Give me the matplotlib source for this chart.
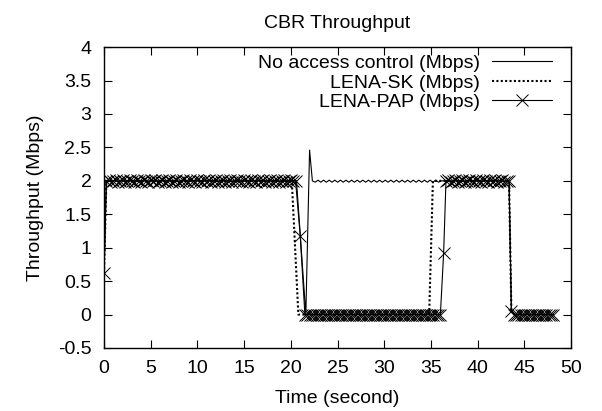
import matplotlib
matplotlib.use("Agg")
import matplotlib.pyplot as plt

plt.rcParams['font.family'] = ['Liberation Sans', 'DejaVu Sans']

# ---- data (time in seconds, throughput in Mbps) ----
pap_t = [0.0, 0.25, 0.5, 0.75, 1.0, 1.25, 1.5, 1.75, 2.0, 2.25, 2.5, 2.75, 3.0, 3.25, 3.5, 3.75,
         4.0, 4.25, 4.5, 4.75, 5.0, 5.25, 5.5, 5.75, 6.0, 6.25, 6.5, 6.75, 7.0, 7.25, 7.5, 7.75,
         8.0, 8.25, 8.5, 8.75, 9.0, 9.25, 9.5, 9.75, 10.0, 10.25, 10.5, 10.75, 11.0, 11.25, 11.5,
         11.75, 12.0, 12.25, 12.5, 12.75, 13.0, 13.25, 13.5, 13.75, 14.0, 14.25, 14.5, 14.75,
         15.0, 15.25, 15.5, 15.75, 16.0, 16.25, 16.5, 16.75, 17.0, 17.25, 17.5, 17.75, 18.0,
         18.25, 18.5, 18.75, 19.0, 19.25, 19.5, 19.75, 20.0, 20.25, 20.5,
         21.0,
         21.5, 21.75, 22.0, 22.25, 22.5, 22.75, 23.0, 23.25, 23.5, 23.75, 24.0, 24.25, 24.5, 24.75,
         25.0, 25.25, 25.5, 25.75, 26.0, 26.25, 26.5, 26.75, 27.0, 27.25, 27.5, 27.75, 28.0, 28.25,
         28.5, 28.75, 29.0, 29.25, 29.5, 29.75, 30.0, 30.25, 30.5, 30.75, 31.0, 31.25, 31.5, 31.75,
         32.0, 32.25, 32.5, 32.75, 33.0, 33.25, 33.5, 33.75, 34.0, 34.25, 34.5, 34.75, 35.0, 35.25,
         35.5, 35.75, 36.0,
         36.35,
         36.6, 36.85, 37.1, 37.35, 37.6, 37.85, 38.1, 38.35, 38.6, 38.85, 39.1, 39.35, 39.6, 39.85,
         40.1, 40.35, 40.6, 40.85, 41.1, 41.35, 41.6, 41.85, 42.1, 42.35, 42.6, 42.85, 43.1, 43.35,
         43.6,
         43.85, 44.1, 44.35, 44.6, 44.85, 45.1, 45.35, 45.6, 45.85, 46.1, 46.35, 46.6, 46.85, 47.1,
         47.35, 47.6, 47.85, 48.1]
pap_v = [0.62, 2.00, 2.01, 1.99, 2.00, 2.02, 1.99, 2.00, 2.01, 1.98, 2.00, 2.01, 2.00, 1.99, 2.02,
         2.00, 1.99, 2.01, 2.00, 1.98, 2.01, 2.00, 2.02, 1.99, 2.00, 2.01, 1.99, 2.00, 2.02, 1.99,
         2.00, 2.01, 1.98, 2.00, 2.01, 2.00, 1.99, 2.02, 2.00, 1.99, 2.01, 2.00, 1.98, 2.01, 2.00,
         2.02, 1.99, 2.00, 2.01, 1.99, 2.00, 2.02, 1.99, 2.00, 2.01, 1.98, 2.00, 2.01, 2.00, 1.99,
         2.02, 2.00, 1.99, 2.01, 2.00, 1.98, 2.01, 2.00, 2.02, 1.99, 2.00, 2.01, 1.99, 2.00, 2.02,
         1.99, 2.00, 2.01, 1.98, 2.00, 2.01, 2.00, 2.00,
         1.18,
         0.00, 0.00, 0.00, 0.00, 0.00, 0.00, 0.00, 0.00, 0.00, 0.00, 0.00, 0.00, 0.00, 0.00,
         0.00, 0.00, 0.00, 0.00, 0.00, 0.00, 0.00, 0.00, 0.00, 0.00, 0.00, 0.00, 0.00, 0.00,
         0.00, 0.00, 0.00, 0.00, 0.00, 0.00, 0.00, 0.00, 0.00, 0.00, 0.00, 0.00, 0.00, 0.00,
         0.00, 0.00, 0.00, 0.00, 0.00, 0.00, 0.00, 0.00, 0.00, 0.00, 0.00, 0.00, 0.00, 0.00,
         0.00, 0.00, 0.00,
         0.92,
         2.00, 2.01, 1.99, 2.00, 2.02, 1.99, 2.00, 2.01, 1.98, 2.00, 2.01, 2.00, 1.99, 2.02,
         2.00, 1.99, 2.01, 2.00, 1.98, 2.01, 2.00, 2.02, 1.99, 2.00, 2.01, 1.99, 2.00, 2.00,
         0.05,
         0.00, 0.00, 0.00, 0.00, 0.00, 0.00, 0.00, 0.00, 0.00, 0.00, 0.00, 0.00, 0.00, 0.00,
         0.00, 0.00, 0.00, 0.00]

sk_t = [0, 0.25, 1.0, 2.0, 3.0, 4.0, 5.0, 6.0, 7.0, 8.0, 9.0, 10.0, 11.0, 12.0, 13.0, 14.0,
        15.0, 16.0, 17.0, 18.0, 19.0, 20.1, 20.8, 22.0, 24.0, 26.0, 28.0, 30.0, 32.0,
        34.0, 34.8, 35.2, 36.0, 37.0, 38.0, 39.0, 40.0, 41.0, 42.0, 43.0, 43.35, 43.6,
        44.0, 45.0, 46.0, 47.0, 48.1]
sk_v = [0.62, 2.00, 2.00, 2.00, 2.00, 2.00, 2.00, 2.00, 2.00, 2.00, 2.00, 2.00, 2.00, 2.00,
        2.00, 2.00, 2.00, 2.00, 2.00, 2.00, 2.00, 2.00, 0.00, 0.00, 0.00, 0.00, 0.00, 0.00,
        0.00, 0.00, 0.00, 2.00, 2.00, 2.00, 2.00, 2.00, 2.00, 2.00, 2.00, 2.00, 2.00, 0.05,
        0.00, 0.00, 0.00, 0.00, 0.00]

na_t = [0, 0.25, 2.0, 4.0, 6.0, 8.0, 10.0, 12.0, 14.0, 16.0, 18.0, 20.0, 20.6, 21.6, 22.0,
        22.3, 22.6, 22.9, 23.2, 23.5, 23.8, 24.1, 24.4, 24.7, 25.0, 25.3, 25.6, 25.9, 26.2,
        26.5, 26.8, 27.1, 27.4, 27.7, 28.0, 28.3, 28.6, 28.9, 29.2, 29.5, 29.8, 30.1, 30.4,
        30.7, 31.0, 31.3, 31.6, 31.9, 32.2, 32.5, 32.8, 33.1, 33.4, 33.7, 34.0, 34.3, 34.6,
        34.9, 35.2, 35.5, 35.8, 36.1, 36.6, 38.0, 40.0, 42.0, 43.35, 43.6, 44.0, 46.0, 48.1]
na_v = [0.62, 2.00, 2.00, 2.00, 2.00, 2.00, 2.00, 2.00, 2.00, 2.00, 2.00, 2.00, 2.00, 0.00,
        2.46, 2.00, 1.98, 2.01, 1.98, 2.01, 1.98, 2.01, 1.98, 2.01, 1.98, 2.01, 1.98, 2.01,
        1.98, 2.01, 1.98, 2.01, 1.98, 2.01, 1.98, 2.01, 1.98, 2.01, 1.98, 2.01, 1.98, 2.01,
        1.98, 2.01, 1.98, 2.01, 1.98, 2.01, 1.98, 2.01, 1.98, 2.01, 1.98, 2.01, 1.98, 2.01,
        1.98, 2.01, 1.98, 2.01, 1.98, 2.00, 2.00, 2.00, 2.00, 2.00, 2.00, 0.05, 0.00, 0.00,
        0.00]

labels = ["No access control (Mbps)", "LENA-SK (Mbps)", "LENA-PAP (Mbps)"]
x_ticks = [0, 5, 10, 15, 20, 25, 30, 35, 40, 45, 50]
y_ticks = [-0.5, 0, 0.5, 1, 1.5, 2, 2.5, 3, 3.5, 4]
y_tick_labels = ["-0.5", "0", "0.5", "1", "1.5", "2", "2.5", "3", "3.5", "4"]

FS = 14

fig = plt.figure(figsize=(6.02, 4.11), dpi=100)
ax = fig.add_axes([0.1728, 0.1533, 0.776, 0.732])

ax.plot(na_t, na_v, color='black', lw=0.8, label=labels[0])
ax.plot(sk_t, sk_v, color='black', lw=1.5, linestyle=(0, (1, 1.1)), label=labels[1])
ax.plot(pap_t, pap_v, color='black', lw=0.8, marker='x', markersize=9,
        markeredgewidth=0.7, label=labels[2])

ax.set_xlim(0, 50)
ax.set_ylim(-0.5, 4)
ax.set_xticks(x_ticks)
ax.set_yticks(y_ticks)
ax.set_yticklabels(y_tick_labels)
ax.tick_params(direction='in', top=True, right=True, length=6, width=0.8,
               labelsize=FS, pad=9)
for s in ax.spines.values():
    s.set_linewidth(1.0)

ax.set_title("CBR Throughput", fontsize=FS, pad=14)
ax.set_xlabel("Time (second)", fontsize=FS, labelpad=9)
ax.set_ylabel("Throughput (Mbps)", fontsize=FS, labelpad=10)

leg = ax.legend(loc='upper right', bbox_to_anchor=(0.972, 0.995), frameon=False,
                markerfirst=False, fontsize=FS, handlelength=3.1, borderaxespad=0.0,
                borderpad=0.3, labelspacing=0.1, handletextpad=0.6)
for col in leg._legend_handle_box.get_children():
    col.align = 'right'

fig.savefig("out.png", dpi=100)
